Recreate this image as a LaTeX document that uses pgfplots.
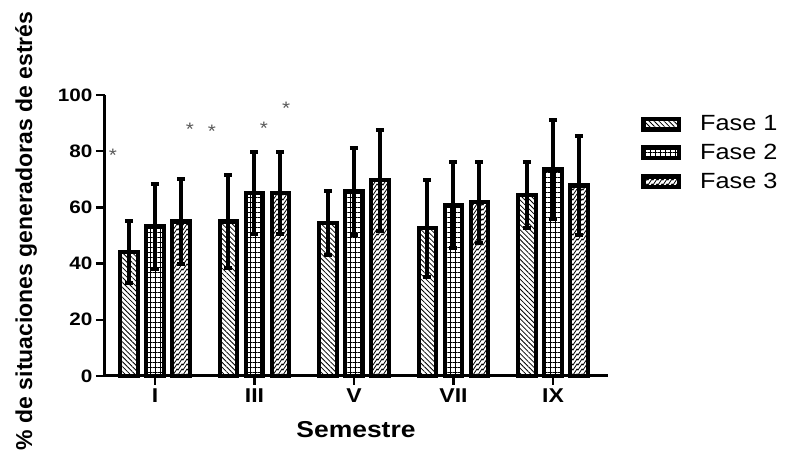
\documentclass[border=0pt]{standalone}
\usepackage{fontspec}
\setmainfont{Liberation Sans}[FakeStretch=1.15]
\newfontfamily\ylfont{Liberation Sans}
\usepackage{pgfplots}
\pgfplotsset{compat=1.18}
\usetikzlibrary{patterns,patterns.meta}
\pgfdeclarepatternformonly{zigzag}{\pgfpoint{-1pt}{-1pt}}{\pgfpoint{6pt}{6pt}}{\pgfpoint{5pt}{5pt}}{%
  \pgfsetlinewidth{0.8pt}%
  \pgfpathmoveto{\pgfpoint{0pt}{0pt}}%
  \pgfpathlineto{\pgfpoint{2pt}{3pt}}%
  \pgfpathlineto{\pgfpoint{3pt}{2pt}}%
  \pgfpathlineto{\pgfpoint{5pt}{5pt}}%
  \pgfusepath{stroke}}
\pgfplotsset{
  mylegend/.style={legend image code/.code={\draw[##1,/tikz/.cd,line width=4.5pt] (2.25pt,-5.25pt) rectangle (37.75pt,5.25pt);}},
  myerr/.style={error bars/.cd, y dir=both, y explicit,
    error bar style={line width=4pt,black,solid},
    error mark options={rotate=90,line width=4pt,mark size=4pt,black,solid}},
}
\begin{document}
\begin{tikzpicture}
\useasboundingbox (-105pt,-81pt) rectangle (683pt,376pt);
\begin{axis}[
  at={(0pt,0pt)}, anchor=south west,
  scale only axis, width=503pt, height=281pt,
  xmin=-0.5025, xmax=4.553, ymin=0, ymax=100,
  enlargelimits=false, clip=false,
  axis x line*=bottom, axis y line*=left,
  axis line style={line width=3pt,-},
  xtick={0,1,2,3,4}, xticklabels={I,III,V,VII,IX},
  ytick={0,20,40,60,80,100},
  tick align=outside, major tick length=9pt,
  tick style={line width=2.5pt,black},
  yticklabel style={font=\bfseries\fontsize{18}{18}\selectfont},
  xticklabel style={font=\bfseries\fontsize{20}{20}\selectfont},
  /pgf/number format/assume math mode=true,
  xlabel={Semestre},
  xlabel style={font=\bfseries\fontsize{23}{23}\selectfont, at={(axis description cs:0.499,-0.189)}, anchor=center},
  ylabel={\% de situaciones generadoras de estrés},
  ylabel style={font=\ylfont\bfseries\fontsize{23}{23}\selectfont, at={(axis description cs:-0.157,0.516)}, anchor=center},
  ybar, bar width=17.5pt,
  legend style={draw=none, fill=none, at={(axis description cs:1.0656,0.7936)}, anchor=west,
    inner sep=0pt, row sep=12pt, font=\fontsize{22}{22}\selectfont,
    nodes={inner sep=0pt},
    /tikz/every odd column/.append style={column sep=19pt}},
  legend cell align=left,
]
\addplot+[mylegend, bar shift=-26pt, draw=black, line width=4.3pt, pattern={Lines[angle=-45,distance=3.5pt,line width=0.8pt]}, pattern color=black, myerr]
  coordinates {(0,44.1) +- (0,10.9) (1,55.0) +- (0,16.5) (2,54.4) +- (0,11.5) (3,52.6) +- (0,17.2) (4,64.5) +- (0,11.7)};
\addlegendentry{Fase 1}
\addplot+[mylegend, bar shift=0pt, draw=black, line width=4.3pt, pattern={Hatch[angle=0,distance=5pt,line width=0.9pt]}, pattern color=black, myerr]
  coordinates {(0,53.2) +- (0,15.2) (1,65.2) +- (0,14.6) (2,65.7) +- (0,15.5) (3,60.7) +- (0,15.3) (4,73.5) +- (0,17.7)};
\addlegendentry{Fase 2}
\addplot+[mylegend, bar shift=26pt, draw=black, line width=4.3pt, pattern=zigzag, pattern color=black, myerr]
  coordinates {(0,55.0) +- (0,15.0) (1,65.2) +- (0,14.6) (2,69.7) +- (0,18.0) (3,61.8) +- (0,14.3) (4,67.8) +- (0,17.7)};
\addlegendentry{Fase 3}
\node[text=black!65, font=\fontsize{18}{18}\selectfont, yshift=-4pt] at (axis cs:-0.422,80.1) {*};
\node[text=black!65, font=\fontsize{18}{18}\selectfont, yshift=-4pt] at (axis cs:0.352,89.3) {*};
\node[text=black!65, font=\fontsize{18}{18}\selectfont, yshift=-4pt] at (axis cs:0.573,88.6) {*};
\node[text=black!65, font=\fontsize{18}{18}\selectfont, yshift=-4pt] at (axis cs:1.095,89.7) {*};
\node[text=black!65, font=\fontsize{18}{18}\selectfont, yshift=-4pt] at (axis cs:1.317,96.8) {*};
\end{axis}
\end{tikzpicture}
\end{document}
